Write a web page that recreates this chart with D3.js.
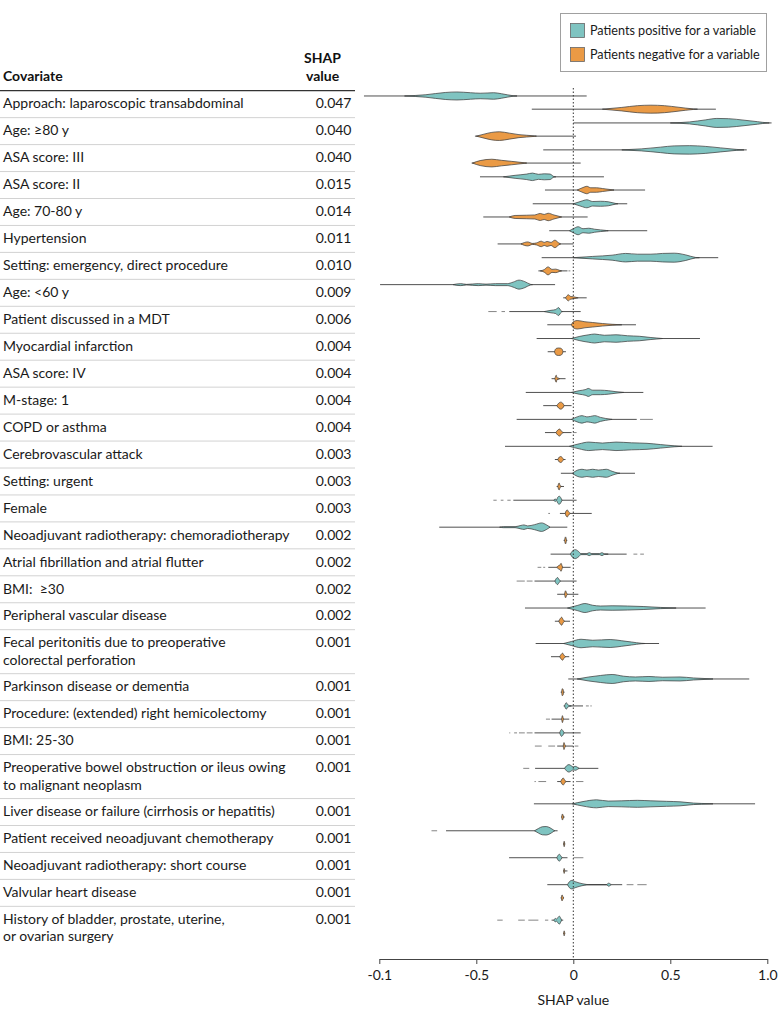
<!DOCTYPE html>
<html><head><meta charset="utf-8">
<script src="https://cdn.jsdelivr.net/npm/d3@7"></script>
<style>
html,body{margin:0;padding:0;background:#fff;}
svg{display:block;}
text{white-space:pre;}
</style></head><body>
<svg id="chart" width="780" height="1018"></svg>
<script>
// ---------------- DATA ----------------
const covariates = [
  "Approach: laparoscopic transabdominal",
  "Age: ≥80 y",
  "ASA score: III",
  "ASA score: II",
  "Age: 70-80 y",
  "Hypertension",
  "Setting: emergency, direct procedure",
  "Age: <60 y",
  "Patient discussed in a MDT",
  "Myocardial infarction",
  "ASA score: IV",
  "M-stage: 1",
  "COPD or asthma",
  "Cerebrovascular attack",
  "Setting: urgent",
  "Female",
  "Neoadjuvant radiotherapy: chemoradiotherapy",
  "Atrial fibrillation and atrial flutter",
  "BMI:  ≥30",
  "Peripheral vascular disease",
  "Fecal peritonitis due to preoperative|colorectal perforation",
  "Parkinson disease or dementia",
  "Procedure: (extended) right hemicolectomy",
  "BMI: 25-30",
  "Preoperative bowel obstruction or ileus owing|to malignant neoplasm",
  "Liver disease or failure (cirrhosis or hepatitis)",
  "Patient received neoadjuvant chemotherapy",
  "Neoadjuvant radiotherapy: short course",
  "Valvular heart disease",
  "History of bladder, prostate, uterine,|or ovarian surgery"
];
const shapValues = ["0.047","0.040","0.040","0.015","0.014","0.011","0.010","0.009","0.006","0.004",
  "0.004","0.004","0.004","0.003","0.003","0.003","0.002","0.002","0.002","0.002",
  "0.001","0.001","0.001","0.001","0.001","0.001","0.001","0.001","0.001","0.001"];

// Whisker (range of SHAP values) for patients positive / negative for a variable
const posExtent = [[-1.079,0.069],[0.0,1.022],[-0.155,0.894],[-0.481,0.158],[-0.209,0.278],
  [-0.124,0.381],[-0.163,0.747],[-0.996,-0.094],[-0.33,0.038],[-0.189,0.653],
  null,[-0.245,0.361],[-0.292,0.327],[-0.352,0.718],[-0.064,0.318],
  [-0.309,0.017],[-0.691,-0.031],[-0.117,0.275],[-0.2,0.017],[-0.249,0.682],
  [-0.194,0.442],[-0.026,0.907],[-0.05,0.05],[-0.2,0.038],[-0.197,0.129],
  [-0.203,0.937],[-0.656,-0.081],[-0.331,-0.03],[-0.134,0.252],[-0.112,-0.052]];
const negExtent = [[-0.214,0.735],[-0.507,0.014],[-0.524,0.038],[-0.146,0.37],[-0.464,0.074],
  [-0.39,0.0],[-0.18,-0.03],[-0.052,0.069],[-0.134,0.323],[-0.132,-0.038],
  [-0.112,-0.04],[-0.155,-0.009],[-0.146,-0.009],[-0.095,-0.04],[-0.086,-0.048],
  [-0.069,0.095],[-0.05,-0.031],[-0.129,-0.014],[-0.083,0.026],[-0.095,-0.017],
  [-0.115,-0.021],[-0.065,-0.045],[-0.112,-0.021],[-0.083,0.0],[-0.083,-0.014],
  [-0.062,-0.045],[-0.052,-0.042],[-0.052,-0.03],[-0.065,-0.048],[-0.052,-0.042]];

// Sparse outlying values (broken whisker pieces)
const posSparse = [[],[],[],[],[],[],[],[],[[-0.438,-0.395],[-0.37,-0.352]],[],
  [],[],[[0.344,0.41]],[],[],
  [[-0.412,-0.395],[-0.374,-0.36],[-0.34,-0.323]],[],[[0.31,0.33],[0.345,0.364]],[[-0.292,-0.25],[-0.24,-0.21]],[],
  [],[],[[0.065,0.08],[0.088,0.095]],[[-0.33,-0.325],[-0.305,-0.29],[-0.28,-0.25],[-0.24,-0.21]],[[-0.258,-0.227]],
  [],[[-0.731,-0.702]],[[0.0,0.052]],[[0.275,0.31],[0.33,0.378]],[[-0.392,-0.364],[-0.284,-0.25],[-0.232,-0.18],[-0.146,-0.129]]];
const negSparse = [[],[],[],[],[],[],[[-0.025,-0.015]],[],[],[],
  [],[],[[0.0,0.017]],[],[],
  [[-0.129,-0.12]],[],[[-0.184,-0.165],[-0.155,-0.145]],[],[],
  [],[],[[-0.141,-0.12]],[[-0.198,-0.163],[-0.129,-0.094],[0.007,0.026]],[[-0.2,-0.193],[-0.18,-0.14],[0.014,0.052]],
  [],[],[],[],[]];

// Density profiles [SHAP value, relative density]
const posDensity = [
  [[-0.87,0],[-0.76,0.25],[-0.66,0.7],[-0.6,0.8],[-0.53,0.65],[-0.48,0.55],[-0.44,0.6],[-0.41,0.65],[-0.37,0.45],[-0.31,0.05],[-0.29,0]],
  [[0.5,0],[0.6,0.2],[0.68,0.6],[0.74,0.9],[0.8,0.85],[0.88,0.55],[0.95,0.25],[1.0,0.02],[1.01,0]],
  [[0.25,0],[0.35,0.2],[0.45,0.55],[0.52,0.8],[0.6,0.85],[0.68,0.7],[0.76,0.4],[0.84,0.1],[0.88,0]],
  [[-0.36,0],[-0.3,0.3],[-0.24,0.55],[-0.21,0.75],[-0.18,0.5],[-0.15,0.6],[-0.12,0.55],[-0.1,0.05],[-0.09,0]],
  [[0.0,0],[0.04,0.5],[0.07,0.8],[0.1,0.45],[0.14,0.5],[0.18,0.4],[0.22,0.05],[0.23,0]],
  [[-0.02,0],[0.0,0.4],[0.025,0.8],[0.05,0.4],[0.08,0.5],[0.11,0.3],[0.17,0.05],[0.18,0]],
  [[0.0,0],[0.1,0.25],[0.2,0.5],[0.27,0.85],[0.33,0.7],[0.4,0.7],[0.46,0.85],[0.52,0.9],[0.58,0.55],[0.63,0.05],[0.65,0]],
  [[-0.62,0],[-0.58,0.2],[-0.55,0.05],[-0.49,0.2],[-0.45,0.1],[-0.4,0.2],[-0.34,0.2],[-0.31,0.5],[-0.28,0.9],[-0.25,0.6],[-0.22,0.05],[-0.21,0]],
  [[-0.15,0],[-0.115,0.25],[-0.09,0.4],[-0.077,0.8],[-0.06,0.05],[-0.055,0]],
  [[-0.01,0],[0.03,0.4],[0.08,0.75],[0.11,0.9],[0.16,0.65],[0.22,0.75],[0.28,0.55],[0.34,0.45],[0.4,0.2],[0.46,0]],
  [],
  [[-0.01,0],[0.03,0.35],[0.065,0.6],[0.077,0.8],[0.1,0.45],[0.14,0.45],[0.18,0.35],[0.22,0.15],[0.26,0]],
  [[-0.01,0],[0.02,0.5],[0.045,0.75],[0.07,0.5],[0.09,0.6],[0.11,0.75],[0.14,0.4],[0.19,0.05],[0.2,0]],
  [[-0.02,0],[0.03,0.5],[0.08,0.85],[0.15,0.65],[0.22,0.85],[0.3,0.7],[0.38,0.6],[0.45,0.35],[0.52,0.1],[0.56,0]],
  [[-0.005,0],[0.02,0.6],[0.045,0.8],[0.07,0.65],[0.1,0.8],[0.13,0.65],[0.17,0.8],[0.2,0.4],[0.23,0.05],[0.24,0]],
  [[-0.1,0],[-0.094,0.25],[-0.086,0.1],[-0.08,0.6],[-0.072,0.8],[-0.063,0.4],[-0.058,0]],
  [[-0.38,0],[-0.36,0.1],[-0.3,0.1],[-0.27,0.35],[-0.254,0.45],[-0.235,0.25],[-0.2,0.5],[-0.163,0.85],[-0.14,0.5],[-0.12,0]],
  [[-0.015,0],[-0.005,0.6],[0.01,0.9],[0.025,0.6],[0.04,0.1],[0.07,0.1],[0.082,0.3],[0.095,0.1],[0.135,0.1],[0.148,0.3],[0.16,0.05],[0.18,0]],
  [[-0.095,0],[-0.088,0.5],[-0.081,0.7],[-0.074,0.35],[-0.066,0]],
  [[-0.03,0],[0.02,0.5],[0.06,0.9],[0.1,0.55],[0.14,0.4],[0.2,0.45],[0.28,0.4],[0.36,0.3],[0.45,0.12],[0.53,0]],
  [[-0.05,0],[-0.01,0.4],[0.04,0.85],[0.1,0.65],[0.19,0.8],[0.25,0.55],[0.3,0.3],[0.35,0.05],[0.37,0]],
  [[0.02,0],[0.08,0.4],[0.14,0.7],[0.2,0.9],[0.26,0.55],[0.32,0.4],[0.39,0.5],[0.46,0.35],[0.55,0.4],[0.62,0.2],[0.7,0.05],[0.72,0]],
  [[-0.045,0],[-0.04,0.5],[-0.036,0.65],[-0.03,0.3],[-0.02,0.1],[-0.01,0]],
  [[-0.07,0],[-0.065,0.5],[-0.06,0.7],[-0.053,0.4],[-0.047,0]],
  [[-0.045,0],[-0.035,0.5],[-0.022,0.75],[-0.01,0.5],[0.0,0.3],[0.01,0.4],[0.022,0.2],[0.03,0]],
  [[-0.005,0],[0.05,0.45],[0.12,0.8],[0.18,0.55],[0.25,0.6],[0.33,0.7],[0.4,0.6],[0.48,0.5],[0.55,0.4],[0.62,0.15],[0.7,0.03],[0.72,0]],
  [[-0.2,0],[-0.18,0.45],[-0.16,0.8],[-0.14,0.85],[-0.12,0.6],[-0.1,0.1],[-0.095,0]],
  [[-0.085,0],[-0.078,0.5],[-0.072,0.7],[-0.065,0.4],[-0.058,0]],
  [[-0.03,0],[-0.02,0.6],[-0.008,0.85],[0.01,0.6],[0.03,0.35],[0.06,0.1],[0.08,0],[0.17,0],[0.182,0.3],[0.195,0]],
  [[-0.1,0],[-0.093,0.35],[-0.087,0.2],[-0.08,0.5],[-0.072,0.8],[-0.065,0.4],[-0.06,0]]
];
const negDensity = [
  [[0.15,0],[0.25,0.35],[0.33,0.7],[0.4,0.8],[0.47,0.7],[0.54,0.4],[0.62,0.05],[0.64,0]],
  [[-0.5,0],[-0.46,0.4],[-0.42,0.75],[-0.38,0.87],[-0.33,0.6],[-0.28,0.3],[-0.2,0.05],[-0.19,0]],
  [[-0.52,0],[-0.48,0.5],[-0.42,0.77],[-0.37,0.55],[-0.32,0.35],[-0.25,0.05],[-0.24,0]],
  [[0.02,0],[0.05,0.5],[0.07,0.75],[0.09,0.45],[0.12,0.45],[0.15,0.3],[0.2,0.05],[0.21,0]],
  [[-0.33,0],[-0.3,0.3],[-0.24,0.35],[-0.2,0.4],[-0.17,0.7],[-0.15,0.5],[-0.13,0.75],[-0.1,0.4],[-0.06,0]],
  [[-0.27,0],[-0.235,0.4],[-0.21,0.1],[-0.19,0.2],[-0.165,0.55],[-0.15,0.3],[-0.135,0.5],[-0.115,0.3],[-0.095,0.75],[-0.075,0.2],[-0.065,0]],
  [[-0.17,0],[-0.15,0.25],[-0.13,0.8],[-0.11,0.3],[-0.09,0.35],[-0.07,0.1],[-0.06,0]],
  [[-0.04,0],[-0.025,0.6],[-0.015,0.3],[0.0,0.2],[0.02,0.05],[0.025,0]],
  [[-0.01,0],[0.0,0.6],[0.02,0.85],[0.06,0.6],[0.1,0.45],[0.15,0.25],[0.2,0.1],[0.25,0]],
  [[-0.097,0],[-0.092,0.5],[-0.085,0.7],[-0.075,0.75],[-0.065,0.7],[-0.058,0.5],[-0.053,0]],
  [[-0.095,0],[-0.088,0.7],[-0.084,0.2],[-0.075,0.1],[-0.07,0]],
  [[-0.085,0],[-0.075,0.5],[-0.065,0.7],[-0.055,0.5],[-0.047,0]],
  [[-0.09,0],[-0.08,0.5],[-0.07,0.7],[-0.062,0.3],[-0.05,0]],
  [[-0.08,0],[-0.072,0.5],[-0.065,0.6],[-0.057,0.4],[-0.05,0]],
  [[-0.08,0],[-0.073,0.7],[-0.068,0.2],[-0.06,0]],
  [[-0.042,0],[-0.037,0.5],[-0.031,0.7],[-0.024,0.3],[-0.015,0]],
  [[-0.045,0],[-0.04,0.7],[-0.035,0]],
  [[-0.085,0],[-0.075,0.35],[-0.068,0.5],[-0.063,0.8],[-0.058,0.3],[-0.055,0]],
  [[-0.045,0],[-0.04,0.7],[-0.034,0.2],[-0.03,0]],
  [[-0.075,0],[-0.066,0.6],[-0.06,0.8],[-0.052,0.3],[-0.045,0]],
  [[-0.07,0],[-0.062,0.5],[-0.055,0.7],[-0.048,0.3],[-0.04,0]],
  [[-0.06,0],[-0.057,0.7],[-0.052,0.5],[-0.05,0]],
  [[-0.06,0],[-0.056,0.7],[-0.052,0.2],[-0.048,0]],
  [[-0.052,0],[-0.048,0.7],[-0.043,0.2],[-0.04,0]],
  [[-0.065,0],[-0.058,0.5],[-0.052,0.7],[-0.045,0.35],[-0.038,0]],
  [[-0.06,0],[-0.056,0.6],[-0.052,0.3],[-0.049,0]],
  [[-0.05,0],[-0.047,0.55],[-0.044,0]],
  [[-0.05,0],[-0.047,0.5],[-0.044,0]],
  [[-0.062,0],[-0.058,0.6],[-0.054,0.3],[-0.05,0]],
  [[-0.05,0],[-0.047,0.5],[-0.044,0]]
];

const xTickValues = [-1, -0.5, 0, 0.5, 1];
const xTickLabels = ["-0.1", "-0.5", "0", "0.5", "1.0"];
const legendLabels = ["Patients positive for a variable", "Patients negative for a variable"];
const groupColors = ["#7fc4c1", "#ea9a45"];

// ---------------- LAYOUT ----------------
const FONT = 'Lato, "Noto Sans", sans-serif';
const svg = d3.select("#chart").style("font-family", FONT);
svg.append("rect").attr("width", 780).attr("height", 1018).attr("fill", "#fff");

const x = d3.scaleLinear().domain([-1, 1]).range([379.3, 767.3]);
const dens = d3.scaleLinear().domain([0, 1]).range([0, 5]);

const headerY = 90.7, rowUnit = 26.95, lineStep = 17.05, tableRight = 355;
let cursor = headerY;
const rows = covariates.map((c, i) => {
  const lines = c.split("|");
  const h = rowUnit + (lines.length - 1) * lineStep;
  const r = { i, lines, top: cursor, h };
  cursor += h;
  return r;
});

// Table header
const hdr = svg.append("g").attr("font-weight", "bold").attr("font-size", 14).attr("fill", "#111");
hdr.append("text").attr("x", 3).attr("y", headerY - 10).text("Covariate");
hdr.append("text").attr("x", 304).attr("y", headerY - 28).text("SHAP");
hdr.append("text").attr("x", 306).attr("y", headerY - 10).text("value");
svg.append("line").attr("x1", 0).attr("x2", tableRight).attr("y1", headerY).attr("y2", headerY)
  .attr("stroke", "#333").attr("stroke-width", 1.2);

// Table rows
const rowG = svg.append("g").attr("font-size", 14).attr("fill", "#1a1a1a");
rows.forEach(r => {
  r.lines.forEach((ln, k) => {
    rowG.append("text").attr("x", 3).attr("y", r.top + 17.7 + k * 17.4).text(ln);
  });
  rowG.append("text").attr("x", 351.5).attr("y", r.top + 17.7).attr("text-anchor", "end").text(shapValues[r.i]);
  if (r.i < rows.length - 1) {
    svg.append("line").attr("x1", 0).attr("x2", tableRight)
      .attr("y1", r.top + r.h).attr("y2", r.top + r.h)
      .attr("stroke", "#d2d2d2").attr("stroke-width", 1);
  }
});

// Violins
const vg = svg.append("g");
const area = (cy) => d3.area()
  .x(d => x(d[0]))
  .y0(d => cy - dens(d[1]))
  .y1(d => cy + dens(d[1]))
  .curve(d3.curveMonotoneX);

function drawViolin(cy, extent, sparse, density, color) {
  if (extent) {
    vg.append("line").attr("x1", x(extent[0])).attr("x2", x(extent[1]))
      .attr("y1", cy).attr("y2", cy).attr("stroke", "#3c3c3c").attr("stroke-width", 0.9);
  }
  (sparse || []).forEach(s => {
    vg.append("line").attr("x1", x(s[0])).attr("x2", x(s[1]))
      .attr("y1", cy).attr("y2", cy).attr("stroke", "#777").attr("stroke-width", 0.9);
  });
  if (density && density.length) {
    vg.append("path").attr("d", area(cy)(density))
      .attr("fill", color).attr("stroke", "#404040").attr("stroke-width", 0.75);
  }
}
rows.forEach(r => {
  const cy = r.top + r.h / 2 - 1.6;
  drawViolin(cy - 6.6, posExtent[r.i], posSparse[r.i], posDensity[r.i], groupColors[0]);
  drawViolin(cy + 6.6, negExtent[r.i], negSparse[r.i], negDensity[r.i], groupColors[1]);
});

// Zero reference line
const axisY = 959;
svg.append("line").attr("x1", x(0)).attr("x2", x(0)).attr("y1", 88).attr("y2", axisY)
  .attr("stroke", "#333").attr("stroke-width", 1).attr("stroke-dasharray", "1.5,2");

// X axis
const axis = d3.axisBottom(x).tickValues(xTickValues)
  .tickFormat((d, i) => xTickLabels[i]).tickSize(5).tickPadding(6).tickSizeOuter(0);
const ag = svg.append("g").attr("transform", `translate(0,${axisY})`).call(axis);
ag.select(".domain").attr("stroke", "#444");
ag.selectAll(".tick line").attr("stroke", "#444");
ag.selectAll(".tick text").attr("font-size", 14).attr("font-family", FONT).attr("fill", "#1a1a1a");
svg.append("text").attr("x", x(0)).attr("y", 1005).attr("text-anchor", "middle")
  .attr("font-size", 14).attr("fill", "#1a1a1a").text("SHAP value");

// Legend
const lg = svg.append("g");
lg.append("rect").attr("x", 560.5).attr("y", 13.5).attr("width", 206).attr("height", 58)
  .attr("fill", "#fff").attr("stroke", "#a0a0a0").attr("stroke-width", 1);
legendLabels.forEach((lab, i) => {
  lg.append("rect").attr("x", 570.5).attr("y", 23.5 + i * 24).attr("width", 14).attr("height", 14)
    .attr("fill", groupColors[i]).attr("stroke", "#666").attr("stroke-width", 0.8);
  lg.append("text").attr("x", 590).attr("y", 35 + i * 24).attr("font-size", 12.6).attr("fill", "#1a1a1a").text(lab);
});
</script>
</body></html>
